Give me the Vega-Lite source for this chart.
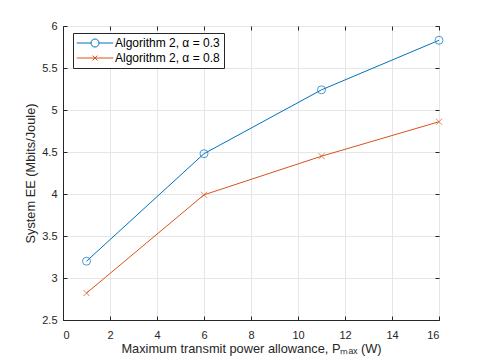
{
  "$schema": "https://vega.github.io/schema/vega-lite/v6.json",
  "width": 376,
  "height": 294,
  "autosize": {"type": "none"},
  "padding": {"left": 63, "top": 26, "right": 46, "bottom": 43},
  "background": "white",
  "config": {
    "font": "Liberation Sans",
    "view": {"stroke": "#262626", "strokeWidth": 1},
    "axis": {
      "domainColor": "#262626",
      "tickColor": "#262626",
      "labelColor": "#262626",
      "titleColor": "#262626",
      "gridColor": "#e6e6e6",
      "labelFontSize": 11,
      "titleFontSize": 12.8,
      "titleFontWeight": "normal",
      "tickSize": -4
    },
    "legend": {
      "orient": "none", "legendX": 10, "legendY": 7, "title": null,
      "strokeColor": "#262626", "fillColor": "white", "padding": 4,
      "symbolSize": 64, "symbolStrokeWidth": 1, "symbolOpacity": 1, "symbolOffset": 12,
      "symbolFillColor": "transparent",
      "labelFontSize": 12, "labelColor": "#000000", "labelOffset": 14, "rowPadding": 3
    }
  },
  "data": {
    "values": [
      {"p": 1, "ee": 3.2, "s": "Algorithm 2, α = 0.3"},
      {"p": 6, "ee": 4.48, "s": "Algorithm 2, α = 0.3"},
      {"p": 11, "ee": 5.24, "s": "Algorithm 2, α = 0.3"},
      {"p": 16, "ee": 5.83, "s": "Algorithm 2, α = 0.3"},
      {"p": 1, "ee": 2.82, "s": "Algorithm 2, α = 0.8"},
      {"p": 6, "ee": 3.99, "s": "Algorithm 2, α = 0.8"},
      {"p": 11, "ee": 4.45, "s": "Algorithm 2, α = 0.8"},
      {"p": 16, "ee": 4.86, "s": "Algorithm 2, α = 0.8"}
    ]
  },
  "layer": [
    {
      "mark": {"type": "line", "strokeWidth": 1},
      "encoding": {
        "x": {
          "field": "p", "type": "quantitative",
          "scale": {"domain": [0, 16], "nice": false},
          "axis": {"orient": "bottom", "values": [0, 2, 4, 6, 8, 10, 12, 14, 16], "labelPadding": 13, "title": "Maximum transmit power allowance, Pₘₐₓ (W)", "titlePadding": 2}
        },
        "y": {
          "field": "ee", "type": "quantitative",
          "scale": {"domain": [2.5, 6], "nice": false, "zero": false},
          "axis": {"orient": "left", "values": [2.5, 3, 3.5, 4, 4.5, 5, 5.5, 6], "format": "~g", "labelPadding": 10, "title": "System EE (Mbits/Joule)", "titlePadding": 4}
        },
        "color": {
          "field": "s", "type": "nominal",
          "scale": {"domain": ["Algorithm 2, α = 0.3", "Algorithm 2, α = 0.8"], "range": ["#0072BD", "#D95319"]}
        }
      }
    },
    {
      "transform": [{"filter": "datum.s === 'Algorithm 2, α = 0.3'"}],
      "mark": {"type": "point", "filled": false, "size": 64, "strokeWidth": 1, "shape": "circle"},
      "encoding": {
        "x": {"field": "p", "type": "quantitative", "axis": null},
        "y": {"field": "ee", "type": "quantitative", "axis": null},
        "color": {"field": "s", "type": "nominal"}
      }
    },
    {
      "transform": [{"filter": "datum.s === 'Algorithm 2, α = 0.8'"}],
      "mark": {"type": "point", "filled": false, "size": 64, "strokeWidth": 1, "shape": "M-0.75,-0.75L0.75,0.75M-0.75,0.75L0.75,-0.75"},
      "encoding": {
        "x": {"field": "p", "type": "quantitative", "axis": null},
        "y": {"field": "ee", "type": "quantitative", "axis": null},
        "color": {"field": "s", "type": "nominal"}
      }
    },
    {
      "mark": {"type": "point", "filled": false, "size": 64, "strokeWidth": 1, "opacity": 0},
      "encoding": {
        "x": {
          "field": "p", "type": "quantitative",
          "axis": {"orient": "top", "values": [0, 2, 4, 6, 8, 10, 12, 14, 16], "labels": false, "grid": false, "title": null, "domain": false}
        },
        "y": {
          "field": "ee", "type": "quantitative",
          "axis": {"orient": "right", "values": [2.5, 3, 3.5, 4, 4.5, 5, 5.5, 6], "labels": false, "grid": false, "title": null, "domain": false}
        },
        "color": {"field": "s", "type": "nominal"},
        "shape": {
          "field": "s", "type": "nominal",
          "scale": {
            "domain": ["Algorithm 2, α = 0.3", "Algorithm 2, α = 0.8"],
            "range": [
              "M-4.57,0L-1,0M1,0L4.57,0M1,0A1,1 0 1,1 -1,0A1,1 0 1,1 1,0",
              "M-4.57,0L4.57,0M-0.6,-0.6L0.6,0.6M-0.6,0.6L0.6,-0.6"
            ]
          }
        }
      }
    }
  ]
}
